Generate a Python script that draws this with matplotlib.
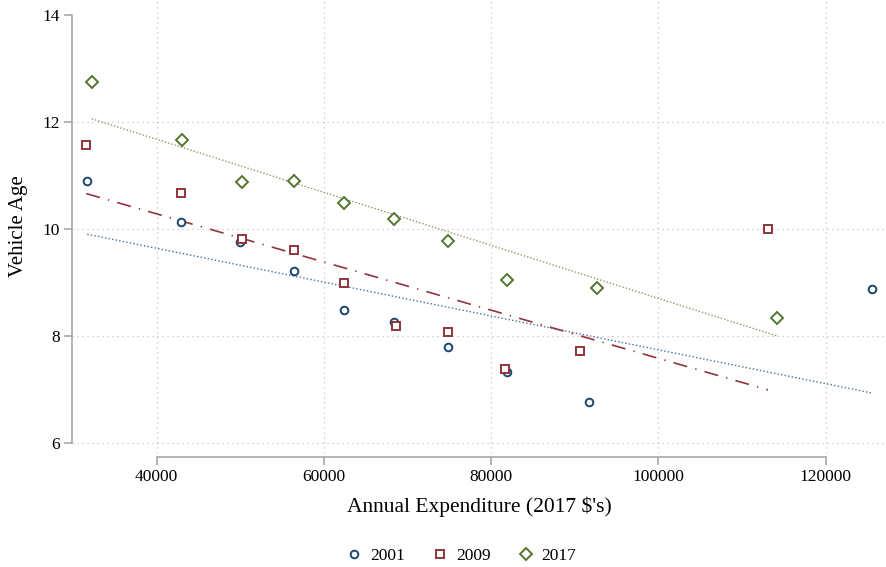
import numpy as np
import matplotlib
matplotlib.use("Agg")
import matplotlib.pyplot as plt
from matplotlib.lines import Line2D

plt.rcParams['font.family'] = ['Liberation Serif', 'DejaVu Serif']

# average vehicle age by annual household expenditure bin, per survey year
exp_2001 = [31700, 42900, 50000, 56380, 62360, 68410, 74800, 81920, 91730, 125570]
age_2001 = [10.90, 10.13, 9.75, 9.21, 8.48, 8.26, 7.80, 7.32, 6.77, 8.88]

exp_2009 = [31580, 42870, 50200, 56450, 62430, 68580, 74870, 81690, 90620, 113100]
age_2009 = [11.57, 10.68, 9.81, 9.60, 8.99, 8.19, 8.08, 7.38, 7.72, 9.99]

exp_2017 = [32230, 43020, 50160, 56380, 62400, 68410, 74800, 81830, 92620, 114140]
age_2017 = [12.74, 11.66, 10.88, 10.89, 10.49, 10.18, 9.78, 9.04, 8.90, 8.34]

# fitted vehicle age at the lowest and highest expenditure bin
fit_2001 = [9.90, 6.93]
fit_2009 = [10.66, 6.99]
fit_2017 = [12.06, 8.00]

years = ['2001', '2009', '2017']
colors = ['#1a476f', '#90353b', '#55752f']
markers = ['o', 's', 'D']
msizes = [5.5, 5.8, 5.8]
fit_styles = [(0, (1.0, 1.6)), (0, (8.5, 5, 0.8, 5)), (0, (1.0, 1.4))]
fit_widths = [1.0, 1.2, 1.0]
fit_colors = ['#4a6f92', '#90353b', '#8a9a62']

fig = plt.figure(figsize=(8.86, 5.67), dpi=100)
ax = fig.add_axes([72 / 886, (567 - 453) / 567, (886 - 72) / 886, 453 / 567])

series = [(exp_2001, age_2001, fit_2001),
          (exp_2009, age_2009, fit_2009),
          (exp_2017, age_2017, fit_2017)]
for (xs, ys, fit), c, m, ms, ls, lw, fc in zip(series, colors, markers, msizes,
                                               fit_styles, fit_widths, fit_colors):
    ax.plot(xs, ys, linestyle='none', marker=m, markersize=ms,
            markerfacecolor='white', markeredgecolor=c, markeredgewidth=1.4,
            zorder=3)
    # linear fit drawn across the observed expenditure range
    ax.plot([min(xs), max(xs)], fit, color=fc, linestyle=ls, linewidth=lw,
            zorder=2)

ax.set_xlim(29871, 127211)
ax.set_ylim(5.81, 14.28)
ax.set_xticks([40000, 60000, 80000, 100000, 120000])
ax.set_yticks([6, 8, 10, 12, 14])
ax.set_xticklabels(['40000', '60000', '80000', '100000', '120000'])
ax.set_yticklabels(['6', '8', '10', '12', '14'])

ax.grid(True, color='#c4c4c4', linestyle=(0, (1, 3)), linewidth=0.9)
ax.yaxis.get_gridlines()[-1].set_visible(False)
ax.set_axisbelow(True)

for s in ['top', 'right']:
    ax.spines[s].set_visible(False)
ax.spines['left'].set_bounds(6, 14)
ax.spines['bottom'].set_bounds(40000, 120000)
ax.spines['bottom'].set_position(('outward', 2.7))
for s in ['left', 'bottom']:
    ax.spines[s].set_color('#a0a0a0')
    ax.spines[s].set_linewidth(1.1)

ax.tick_params(axis='both', colors='#a0a0a0', length=5.8, width=1.1,
               labelcolor='black', labelsize=12.5, pad=3)

ax.set_xlabel("Annual Expenditure (2017 $'s)", fontsize=15.5, labelpad=8)
ax.set_ylabel("Vehicle Age", fontsize=15, labelpad=10)

handles = [Line2D([], [], linestyle='none', marker=m, markersize=ms,
                  markerfacecolor='white', markeredgecolor=c,
                  markeredgewidth=1.4)
           for m, ms, c in zip(markers, msizes, colors)]
fig.legend(handles, years, loc='center', bbox_to_anchor=(461 / 886, 1 - 556 / 567),
           ncol=3, frameon=False, fontsize=12.5, handlelength=1.0,
           handletextpad=0.4, columnspacing=1.55)

fig.savefig('out.png', dpi=100)
